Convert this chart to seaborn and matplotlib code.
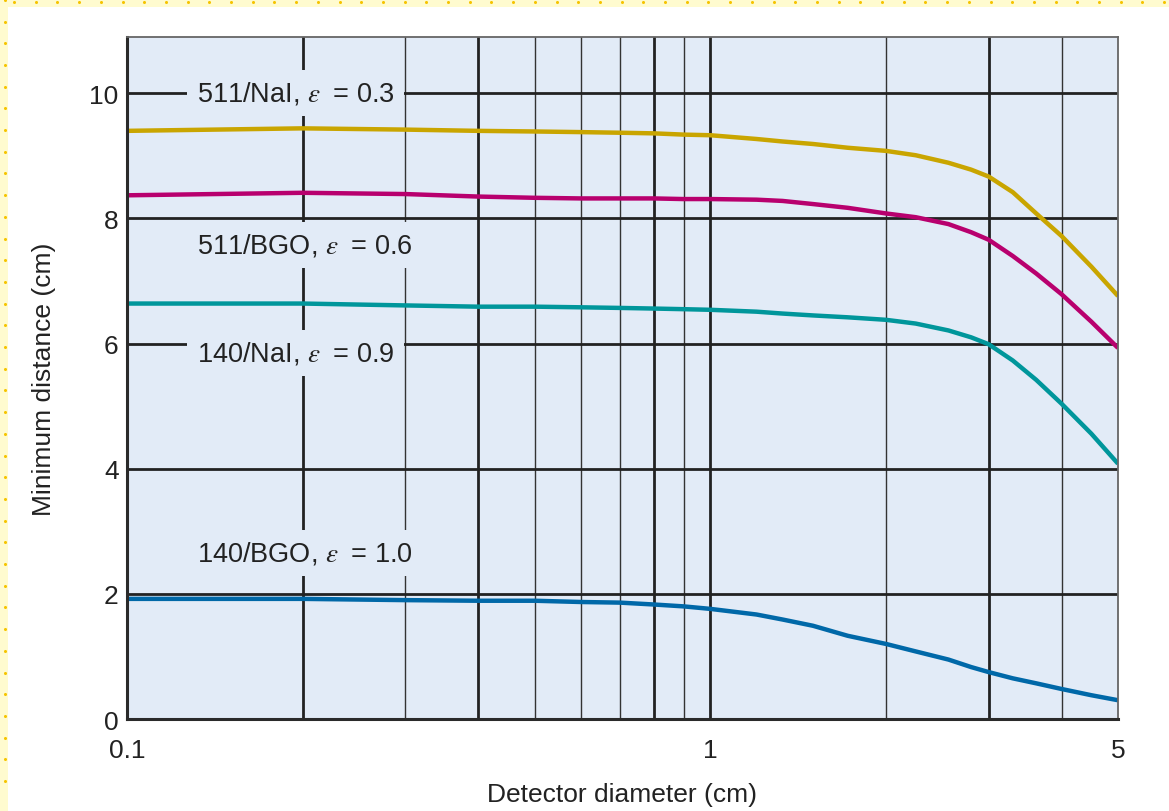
import numpy as np
import pandas as pd
import matplotlib
matplotlib.use('Agg')
import matplotlib.pyplot as plt
import seaborn as sns
from matplotlib.patches import Rectangle
from matplotlib.lines import Line2D

# Data
diameter = [0.1, 0.2, 0.3, 0.4, 0.5, 0.6, 0.7, 0.8, 0.9, 1.0, 1.2, 1.33,
            1.5, 1.72, 2.0, 2.25, 2.56, 2.8, 3.0, 3.3, 3.62, 4.0, 4.5, 5.0]
nai_511 = [9.40, 9.44, 9.42, 9.40, 9.39, 9.38, 9.37, 9.36, 9.34, 9.33, 9.27, 9.23,
           9.19, 9.13, 9.08, 9.01, 8.89, 8.78, 8.67, 8.42, 8.08, 7.72, 7.23, 6.76]
bgo_511 = [8.37, 8.41, 8.39, 8.35, 8.33, 8.32, 8.32, 8.32, 8.31, 8.31, 8.30, 8.28,
           8.23, 8.17, 8.08, 8.02, 7.91, 7.78, 7.66, 7.40, 7.12, 6.79, 6.35, 5.93]
nai_140 = [6.64, 6.64, 6.61, 6.59, 6.59, 6.58, 6.57, 6.56, 6.55, 6.54, 6.51, 6.48,
           6.45, 6.42, 6.38, 6.32, 6.21, 6.10, 5.99, 5.73, 5.42, 5.04, 4.56, 4.08]
bgo_140 = [1.92, 1.92, 1.90, 1.89, 1.89, 1.87, 1.86, 1.83, 1.80, 1.76, 1.67, 1.59,
           1.49, 1.33, 1.20, 1.08, 0.95, 0.83, 0.75, 0.65, 0.57, 0.48, 0.38, 0.30]

series_names = ['511/NaI', '511/BGO', '140/NaI', '140/BGO']
series_colors = ['#c9a500', '#b8006e', '#00969b', '#0068a8']
label_texts = [r'511/NaI, $\varepsilon$' + '\u2002= 0.3',
               r'511/BGO, $\varepsilon$' + '\u2002= 0.6',
               r'140/NaI, $\varepsilon$' + '\u2002= 0.9',
               r'140/BGO, $\varepsilon$' + '\u2002= 1.0']
label_y = [10.0, 7.58, 5.85, 2.65]

x_ticks = [0.1, 1, 5]
x_tick_labels = ['0.1', '1', '5']
y_ticks = [0, 2, 4, 6, 8, 10]
grid_x_thick = [0.2, 0.4, 0.8, 1, 3]
grid_x_thin = [0.3, 0.5, 0.6, 0.7, 0.9, 2, 4]
grid_y = [2, 4, 6, 8, 10]

df = pd.DataFrame({
    'diameter': diameter * 4,
    'distance': nai_511 + bgo_511 + nai_140 + bgo_140,
    'series': np.repeat(series_names, len(diameter)),
})

plt.rcParams['font.family'] = ['Liberation Sans', 'DejaVu Sans']
plt.rcParams['mathtext.fontset'] = 'stix'

fig = plt.figure(figsize=(11.69, 8.12), dpi=100)
ax = fig.add_axes([0.1086, 0.1133, 0.8478, 0.8399])
face = '#e2ebf7'
ax.set_facecolor(face)

# grid
for gx in grid_x_thick:
    ax.axvline(gx, color='#222222', lw=2.0, zorder=1)
for gx in grid_x_thin:
    ax.axvline(gx, color='#333333', lw=1.0, zorder=1)
for gy in grid_y:
    ax.axhline(gy, color='#222222', lw=2.0, zorder=1)

sns.lineplot(data=df, x='diameter', y='distance', hue='series',
             hue_order=series_names, palette=series_colors,
             linewidth=3.2, legend=False, ax=ax, zorder=4)
for ln in ax.get_lines()[-4:]:
    ln.set_solid_joinstyle('round')
    ln.set_solid_capstyle('butt')

for txt, ty in zip(label_texts, label_y):
    ax.text(0.1318, ty, txt, fontsize=19.5, color='#222222', ha='left', va='center',
            zorder=3, bbox=dict(boxstyle='square,pad=0.35', fc=face, ec='none'))

ax.set_xscale('log')
ax.set_xlim(0.1, 5)
ax.set_ylim(0, 10.9)
ax.set_xticks(x_ticks)
ax.set_xticklabels(x_tick_labels)
ax.xaxis.set_minor_locator(matplotlib.ticker.NullLocator())
ax.set_yticks(y_ticks)
ax.tick_params(axis='both', length=0, labelsize=19, colors='#222222')
ax.tick_params(axis='x', pad=14)
ax.tick_params(axis='y', pad=6)
ax.set_xlabel('Detector diameter (cm)', fontsize=19, color='#222222', labelpad=14)
ax.set_ylabel('Minimum distance (cm)', fontsize=19, color='#222222', labelpad=24)

for side in ['left', 'bottom']:
    ax.spines[side].set_linewidth(2.2)
    ax.spines[side].set_color('#2a2a2a')
for side in ['top', 'right']:
    ax.spines[side].set_linewidth(1.3)
    ax.spines[side].set_color('#666666')
for sp in ax.spines.values():
    sp.set_zorder(5)

# page frame: pale yellow strips with dots at top and left
fig.add_artist(Rectangle((0, 1 - 8 / 812), 1, 8 / 812, transform=fig.transFigure,
                         fc='#fffbcf', ec='none', zorder=0))
fig.add_artist(Rectangle((0, 0), 8 / 1169, 1, transform=fig.transFigure,
                         fc='#fffbcf', ec='none', zorder=0))
dots_x = np.arange(14, 1169, 21.7) / 1169
fig.add_artist(Line2D(dots_x, np.full(len(dots_x), 1 - 3 / 812), transform=fig.transFigure,
                      ls='none', marker='o', ms=2.2, mfc='#f6c400', mec='none'))
dots_y = np.arange(30, 812, 21.7) / 812
fig.add_artist(Line2D(np.full(len(dots_y), 5 / 1169), dots_y, transform=fig.transFigure,
                      ls='none', marker='o', ms=2.2, mfc='#f6c400', mec='none'))

fig.savefig('out.png', dpi=100)
